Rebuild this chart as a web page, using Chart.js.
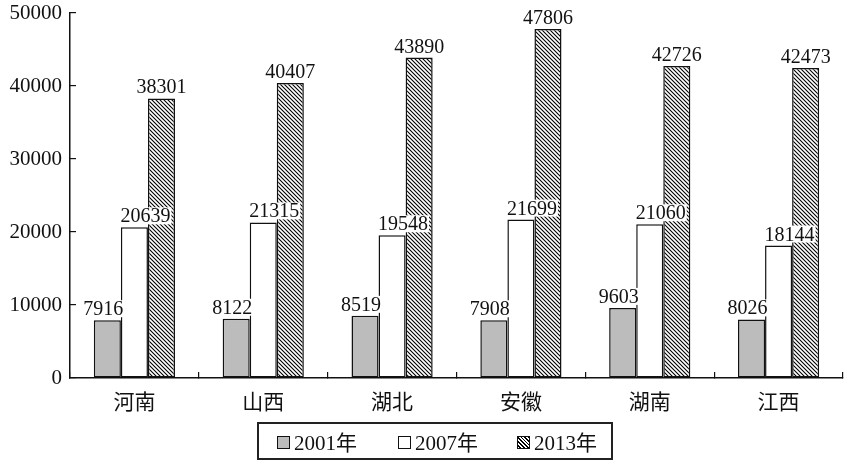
<!DOCTYPE html>
<html>
<head>
<meta charset="utf-8">
<script src="https://cdn.jsdelivr.net/npm/chart.js@4.4.0/dist/chart.umd.min.js"></script>
<style>
  body { margin: 0; background: #fff; }
  #wrap { position: relative; width: 855px; height: 465px; }
  #legendBox {
    position: absolute; left: 257px; top: 422px; width: 352px; height: 34px;
    border: 2px solid #222; font-family: "Liberation Serif", "Noto Sans CJK SC", serif;
    font-size: 21px; color: #111;
  }
  .item { position: absolute; top: 0; height: 34px; display: flex; align-items: center; }
  .sw { width: 11px; height: 11px; border: 1.5px solid #111; margin-right: 4px; margin-top: 3px; }
</style>
</head>
<body>
<div id="wrap">
  <canvas id="chart" width="855" height="465"></canvas>
  <div id="legendBox"></div>
</div>
<script>
// data
const provinces = ['河南', '山西', '湖北', '安徽', '湖南', '江西'];
const years = ['2001年', '2007年', '2013年'];
const v2001 = [7916, 8122, 8519, 7908, 9603, 8026];
const v2007 = [20639, 21315, 19548, 21699, 21060, 18144];
const v2013 = [38301, 40407, 43890, 47806, 42726, 42473];

const serif = '"Liberation Serif", "Times New Roman", serif';

// hatch pattern for 2013
function makeHatch() {
  const s = 4;
  const c = document.createElement('canvas');
  c.width = s; c.height = s;
  const g = c.getContext('2d');
  g.fillStyle = '#fff';
  g.fillRect(0, 0, s, s);
  g.strokeStyle = '#000';
  g.lineWidth = 1.1;
  g.beginPath();
  g.moveTo(0, 0); g.lineTo(s, s);
  g.moveTo(-1, s - 1); g.lineTo(1, s + 1);
  g.moveTo(s - 1, -1); g.lineTo(s + 1, 1);
  g.stroke();
  return g.createPattern(c, 'repeat');
}
const ctx = document.getElementById('chart').getContext('2d');
const hatch = makeHatch();

// value labels above the bars, on a white patch
const labelShift = [-4, 11, 0];
const barLabels = {
  id: 'barLabels',
  afterDatasetsDraw(chart) {
    const c = chart.ctx;
    c.save();
    c.font = '20px ' + serif;
    c.textAlign = 'center';
    c.textBaseline = 'alphabetic';
    chart.data.datasets.forEach((ds, i) => {
      chart.getDatasetMeta(i).data.forEach((bar, j) => {
        const txt = String(ds.data[j]);
        const x = bar.x + labelShift[i];
        const y = bar.y - 5;
        const w = c.measureText(txt).width;
        c.fillStyle = '#fff';
        c.fillRect(x - w / 2 - 1, y - 15, w + 2, 17);
        c.fillStyle = '#111';
        c.fillText(txt, x, y);
      });
    });
    c.restore();
  }
};

new Chart(ctx, {
  type: 'bar',
  data: {
    labels: provinces,
    datasets: [
      { label: years[0], data: v2001, backgroundColor: '#bcbcbc' },
      { label: years[1], data: v2007, backgroundColor: '#ffffff' },
      { label: years[2], data: v2013, backgroundColor: hatch }
    ]
  },
  options: {
    responsive: false,
    animation: false,
    datasets: {
      bar: { borderColor: '#111', borderWidth: 1.5, borderSkipped: false, barPercentage: 1, categoryPercentage: 0.63 }
    },
    layout: { padding: { left: 0, top: 13, right: 12, bottom: 0 } },
    plugins: { legend: { display: false }, tooltip: { enabled: false } },
    scales: {
      x: {
        grid: { drawOnChartArea: false, tickLength: -6, color: '#111', lineWidth: 1.2 },
        border: { color: '#111', width: 1.5 },
        ticks: { color: '#111', padding: 16, font: { family: '"Noto Sans CJK SC", sans-serif', size: 21 } },
        afterFit(s) { s.height = 87; s.paddingLeft = 0; s.paddingRight = 0; }
      },
      y: {
        min: 0, max: 50000,
        grid: { drawOnChartArea: false, tickLength: -6, color: '#111', lineWidth: 1.2 },
        border: { color: '#111', width: 1.5 },
        ticks: { stepSize: 10000, color: '#111', padding: 14, font: { family: serif, size: 21 },
                 callback: v => String(v) },
        afterFit(s) { s.width = 70; s.paddingTop = 0; s.paddingBottom = 0; }
      }
    }
  },
  plugins: [barLabels]
});

// legend
const swatches = [
  'background:#bcbcbc',
  'background:#fff',
  'background:repeating-linear-gradient(45deg,#fff 0 1.4px,#000 1.4px 2.6px)'
];
const itemLeft = [18, 139, 258];
const box = document.getElementById('legendBox');
years.forEach((y, i) => {
  const it = document.createElement('div');
  it.className = 'item';
  it.style.left = itemLeft[i] + 'px';
  it.innerHTML = '<span class="sw" style="' + swatches[i] + '"></span><span>' + y + '</span>';
  box.appendChild(it);
});
</script>
</body>
</html>
